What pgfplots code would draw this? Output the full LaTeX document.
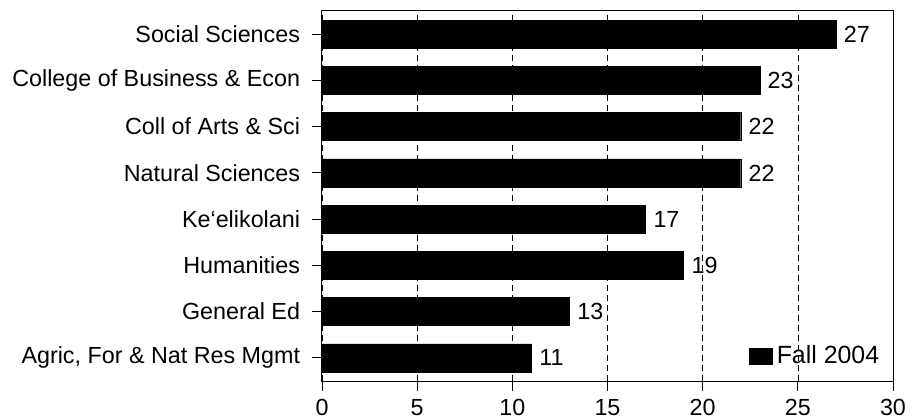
\documentclass[border=0pt]{standalone}
\usepackage{fontspec}
\setmainfont{Liberation Sans}
\usepackage{pgfplots}
\pgfplotsset{compat=1.18}
\newcommand{\chartfont}{\fontsize{23.4}{28}\selectfont}
\begin{document}
\chartfont
\begin{tikzpicture}
\begin{axis}[
  xbar, scale only axis, width=571bp, height=370bp,
  xmin=0, xmax=30, ymin=-0.5, ymax=7.5,
  bar width=28bp,
  ytick={0,...,7},
  yticklabels={{Agric, For \& Nat Res Mgmt},{General Ed},{Humanities},{Ke‘elikolani},{Natural Sciences},{Coll of Arts \& Sci},{College of Business \& Econ},{Social Sciences}},
  xtick={0,5,...,30},
  xtick pos=bottom, ytick pos=left,
  tick align=outside, major tick length=10bp,
  tick style={black, line width=0.8pt},
  axis line style={black, line width=1pt},
  xmajorgrids, grid style={black, line width=0.6pt, dash pattern=on 6bp off 4bp},
  nodes near coords, nodes near coords align={horizontal},
  every node near coord/.append style={font=\chartfont, black},
  tick label style={font=\chartfont},
  yticklabel style={xshift=-4bp},
  /pgf/number format/assume math mode=true,
  legend style={at={(0.978,0.068)}, anchor=east, draw=none, fill=none, font=\fontsize{25}{30}\selectfont, inner sep=0pt, nodes={inner sep=1bp},
    /tikz/every odd column/.append style={column sep=3bp}},
  legend image code/.code={\fill[black] (0bp,-8bp) rectangle (23bp,8bp);},
]
\addplot[fill=black, draw=black] coordinates {(11,0) (13,1) (19,2) (17,3) (22,4) (22,5) (23,6) (27,7)};
\legend{Fall 2004}
\end{axis}
\pgfresetboundingbox
\path ([shift={(-322bp,-38bp)}]current axis.south west) rectangle ++(912bp,419bp);
\end{tikzpicture}
\end{document}
